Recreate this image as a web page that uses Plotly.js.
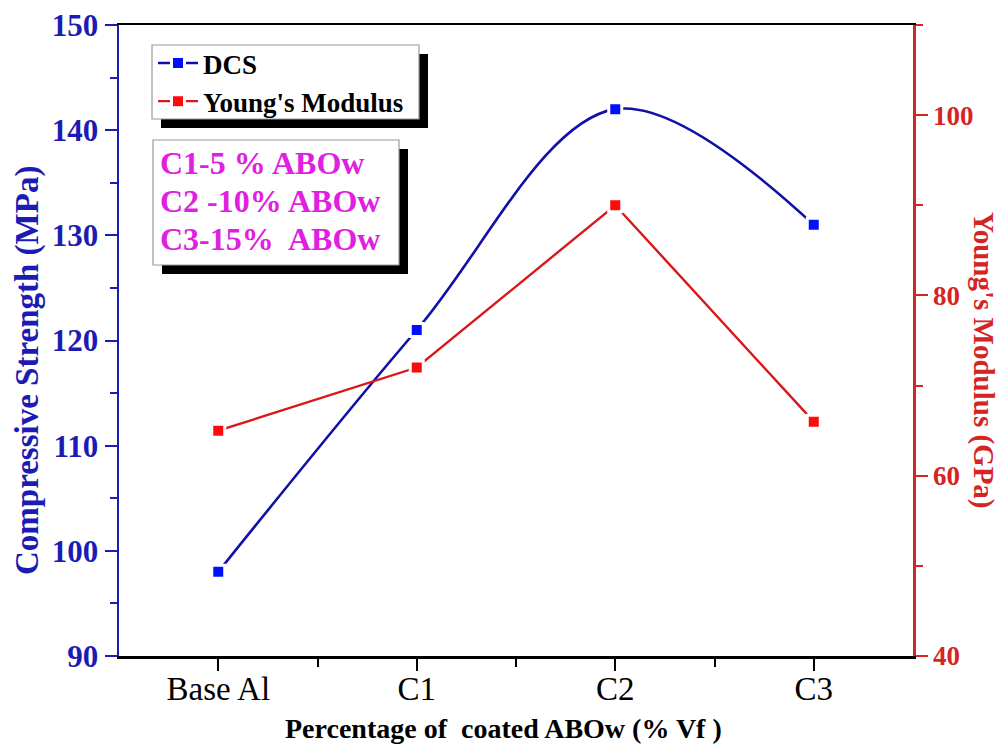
<!DOCTYPE html>
<html>
<head>
<meta charset="utf-8">
<script src="https://cdn.plot.ly/plotly-3.0.1.min.js"></script>
<style>html,body{margin:0;padding:0;background:#fff;}#chart{width:1001px;height:756px;}</style>
</head>
<body>
<div id="chart"></div>
<script>
// ---- data ----
const categories = ["Base Al", "C1", "C2", "C3"];
const dcsValues = [98, 121, 142, 131];          // Compressive strength (MPa)
const youngValues = [65, 72, 90, 66];           // Young's modulus (GPa)
const seriesNames = ["DCS", "Young's Modulus"];
const noteLines = ["C1-5 % ABOw", "C2 -10% ABOw", "C3-15%  ABOw"];

// ---- layout geometry (pixels) ----
const W = 1001, H = 756;
const L = 119, R = 913, T = 25, B = 656;
const px = x => (x - L) / (R - L);
const py = y => (B - y) / (B - T);
function box(x0, y0, x1, y1, fill, line) {
  return {type: 'rect', xref: 'paper', yref: 'paper', layer: 'above',
    x0: px(x0), x1: px(x1), y0: py(y1), y1: py(y0),
    fillcolor: fill, line: line ? {color: line, width: 1.2} : {width: 0}};
}

const xIdx = categories.map((c, i) => i);
const FONT = 'Liberation Serif';
const BLUE = '#1c1cb4', RED = '#d42424', MAGENTA = '#e020e0';

const traces = [
  {x: xIdx, y: dcsValues, name: seriesNames[0], type: 'scatter', mode: 'lines+markers',
   line: {color: '#1010a8', width: 2.6, shape: 'spline', smoothing: 1},
   marker: {symbol: 'square', size: 13, color: '#0010ff', line: {color: '#ffffff', width: 3}},
   yaxis: 'y'},
  {x: xIdx, y: youngValues, name: seriesNames[1], type: 'scatter', mode: 'lines+markers',
   line: {color: '#d81818', width: 2.4},
   marker: {symbol: 'square', size: 13, color: '#ff0a0a', line: {color: '#ffffff', width: 3}},
   yaxis: 'y2'}
];

const noteAnnotations = noteLines.map((t, i) => ({
  text: t, xref: 'paper', yref: 'paper', x: px(158), y: py(163 + 38 * i),
  xanchor: 'left', yanchor: 'middle', align: 'left', showarrow: false,
  font: {family: FONT, size: 32, color: MAGENTA, weight: 'bold'}
}));

const layout = {
  width: W, height: H,
  margin: {l: L, r: W - R, t: T, b: H - B, pad: 0},
  paper_bgcolor: '#ffffff', plot_bgcolor: '#ffffff',
  font: {family: FONT, color: '#000'},
  showlegend: true,
  legend: {x: px(153), y: py(39), xanchor: 'left', yanchor: 'top',
    bgcolor: 'rgba(0,0,0,0)', borderwidth: 0,
    font: {family: FONT, size: 27, color: '#000', weight: 'bold'},
    tracegroupgap: 0, itemwidth: 40},
  xaxis: {range: [-0.5, 3.5], tickvals: xIdx, ticktext: categories,
    showgrid: false, zeroline: false, showline: true, linecolor: '#000', linewidth: 2.5, mirror: true,
    ticks: 'outside', ticklen: 12, tickwidth: 2, tickcolor: '#000', ticklabelstandoff: -10,
    minor: {tickvals: [0.5, 1.5, 2.5], ticks: 'outside', ticklen: 8, tickwidth: 2, tickcolor: '#000'},
    tickfont: {family: FONT, size: 33, color: '#000'}, fixedrange: true},
  yaxis: {range: [90, 150], dtick: 10, showgrid: false, zeroline: false,
    showline: true, linecolor: BLUE, linewidth: 2.5,
    ticks: 'outside', ticklen: 12, tickwidth: 2, tickcolor: BLUE,
    minor: {dtick: 5, ticks: 'outside', ticklen: 7, tickwidth: 2, tickcolor: BLUE},
    tickfont: {family: FONT, size: 31, color: BLUE, weight: 'bold'}, fixedrange: true},
  yaxis2: {range: [40, 110], tickvals: [40, 60, 80, 100], overlaying: 'y', side: 'right',
    showgrid: false, zeroline: false, showline: true, linecolor: RED, linewidth: 2.5,
    ticks: 'outside', ticklen: 12, tickwidth: 2, tickcolor: RED,
    minor: {dtick: 10, ticks: 'outside', ticklen: 7, tickwidth: 2, tickcolor: RED},
    tickfont: {family: FONT, size: 27, color: RED, weight: 'bold'}, fixedrange: true},
  shapes: [
    box(161, 54, 428, 128, '#000000'),
    box(152, 45, 419, 119, '#ffffff', '#9a9a9a'),
    box(162, 149, 408, 274, '#000000'),
    box(153, 140, 399, 265, '#ffffff', '#9a9a9a')
  ],
  annotations: noteAnnotations.concat([
    {text: 'Compressive Strength (MPa)', xref: 'paper', yref: 'paper', x: px(27), y: py(371),
     xanchor: 'center', yanchor: 'middle', textangle: -90, showarrow: false,
     font: {family: FONT, size: 33, color: BLUE, weight: 'bold'}},
    {text: "Young's Modulus (GPa)", xref: 'paper', yref: 'paper', x: px(984), y: py(360),
     xanchor: 'center', yanchor: 'middle', textangle: 90, showarrow: false,
     font: {family: FONT, size: 29, color: RED, weight: 'bold'}},
    {text: 'Percentage of  coated ABOw (% Vf )', xref: 'paper', yref: 'paper', x: px(503), y: py(728),
     xanchor: 'center', yanchor: 'middle', showarrow: false,
     font: {family: FONT, size: 28, color: '#000', weight: 'bold'}}
  ])
};

Plotly.newPlot('chart', traces, layout, {displayModeBar: false, staticPlot: true});
</script>
</body>
</html>
